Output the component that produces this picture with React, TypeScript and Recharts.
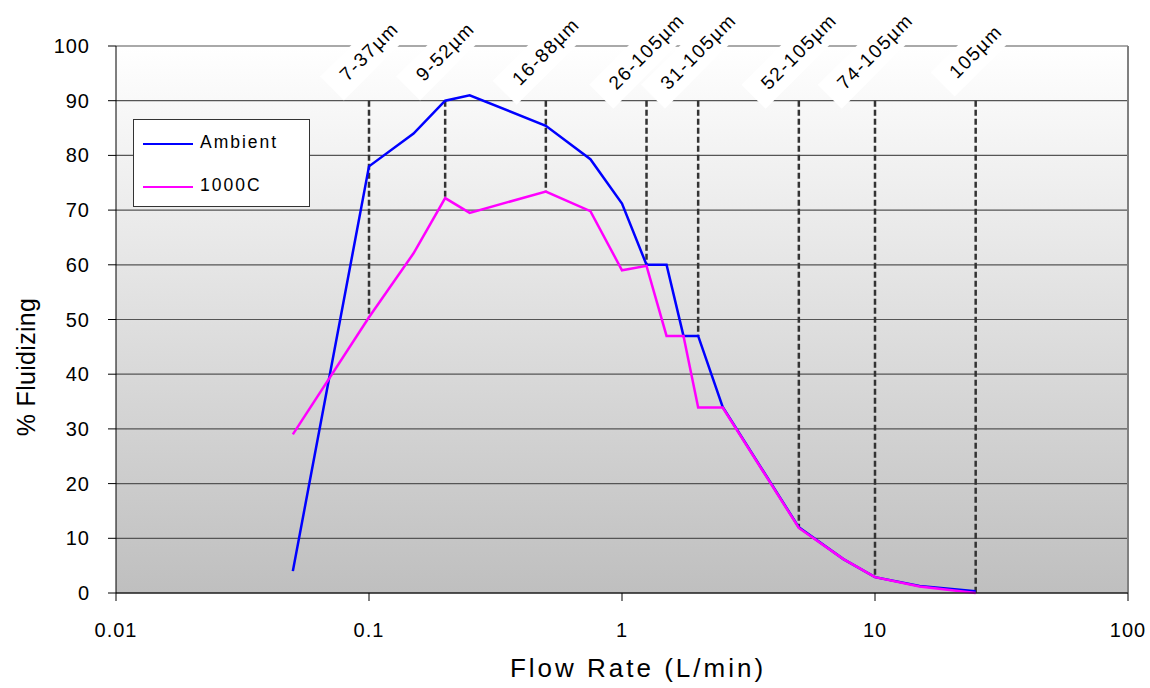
import React from "react";
import {
  CartesianGrid,
  Label,
  Line,
  LineChart,
  ReferenceDot,
  ReferenceLine,
  XAxis,
  YAxis,
} from "recharts";

const flowRate = [0.05, 0.1, 0.15, 0.2, 0.25, 0.5, 0.75, 1, 1.25, 1.5, 1.75, 2, 2.5, 5, 7.5, 10, 15, 25];
const ambient = [4, 78, 84, 90, 91, 85.4, 79.3, 71.2, 60, 60, 47, 47, 34, 12, 6.2, 2.9, 1.3, 0.3];
const hot1000 = [29, 50.4, 62.1, 72.2, 69.5, 73.4, 69.8, 59, 59.8, 47, 47, 33.9, 33.9, 11.9, 6.2, 2.9, 1.2, 0];

const markerFlow = [0.1, 0.2, 0.5, 1.25, 2, 5, 10, 25];
const markerLow = [50.4, 72.2, 73.4, 60, 47, 12, 2.9, 0];
const markerLabels = ["7-37µm", "9-52µm", "16-88µm", "26-105µm", "31-105µm", "52-105µm", "74-105µm", "105µm"];
const markerTop = 90;
const labelLevel = 99;

const xTicks = [0.01, 0.1, 1, 10, 100];
const yTicks = [0, 10, 20, 30, 40, 50, 60, 70, 80, 90, 100];

const FONT = "'Liberation Sans', Arial, sans-serif";

const data = flowRate.map((x, i) => ({ x, ambient: ambient[i], hot: hot1000[i] }));

function MarkerLabel({ cx, cy, text }: { cx?: number; cy?: number; text: string }) {
  if (cx == null || cy == null) return null;
  const w = text.length * 11.5 + 36;
  const h = 34;
  return (
    <g transform={`rotate(-45 ${cx} ${cy})`}>
      <rect x={cx - w / 2} y={cy - h / 2} width={w} height={h} fill="#ffffff" />
      <text
        x={cx}
        y={cy}
        textAnchor="middle"
        dominantBaseline="central"
        fontFamily={FONT}
        fontSize={19}
        letterSpacing={1.5}
        fill="#000"
      >
        {text}
      </text>
    </g>
  );
}

function XTick(props: any) {
  const { x, y, payload } = props;
  return (
    <text x={x} y={y + 27} textAnchor="middle" dominantBaseline="central" fontFamily={FONT} fontSize={20} letterSpacing={1} fill="#000">
      {payload.value}
    </text>
  );
}

function YTick(props: any) {
  const { x, y, payload } = props;
  return (
    <text x={x - 16} y={y} textAnchor="end" dominantBaseline="central" fontFamily={FONT} fontSize={20} letterSpacing={1} fill="#000">
      {payload.value}
    </text>
  );
}

export default function App() {
  return (
    <div style={{ position: "fixed", left: 0, top: 0, width: 1150, height: 688, background: "#fff" }}>
      <LineChart width={1150} height={688} data={data} margin={{ top: 46, right: 22, bottom: 0, left: 0 }}>
        <defs>
          <linearGradient id="plotBg" x1="0" y1="0" x2="0" y2="1">
            <stop offset="0%" stopColor="#ffffff" />
            <stop offset="100%" stopColor="#bfbfbf" />
          </linearGradient>
        </defs>
        <CartesianGrid vertical={false} fill="url(#plotBg)" stroke="#555" strokeWidth={1.2} />
        <XAxis
          type="number"
          dataKey="x"
          scale="log"
          domain={[0.01, 100]}
          ticks={xTicks}
          allowDataOverflow
          height={95}
          tickSize={8}
          tick={<XTick />}
          stroke="#000"
        >
          <Label
            content={() => (
              <text x={638} y={668} textAnchor="middle" dominantBaseline="central" fontFamily={FONT} fontSize={26} letterSpacing={3} fill="#000">
                Flow Rate (L/min)
              </text>
            )}
          />
        </XAxis>
        <YAxis
          type="number"
          domain={[0, 100]}
          ticks={yTicks}
          width={116}
          tickSize={8}
          tick={<YTick />}
          stroke="#000"
          interval={0}
        >
          <Label
            content={() => (
              <text
                x={26}
                y={367}
                transform="rotate(-90 26 367)"
                textAnchor="middle"
                dominantBaseline="central"
                fontFamily={FONT}
                fontSize={25}
                letterSpacing={0.3}
                fill="#000"
              >
                % Fluidizing
              </text>
            )}
          />
        </YAxis>
        <ReferenceLine x={100} stroke="#808080" strokeWidth={2} />
        {markerFlow.map((fx, i) => (
          <ReferenceDot
            key={`lab-${i}`}
            x={fx}
            y={labelLevel}
            r={0}
            shape={(p: any) => <MarkerLabel cx={p.cx} cy={p.cy} text={markerLabels[i]} />}
          />
        ))}
        {markerFlow.map((fx, i) => (
          <ReferenceLine
            key={`seg-${i}`}
            segment={[
              { x: fx, y: markerTop },
              { x: fx, y: markerLow[i] },
            ]}
            stroke="#333"
            strokeWidth={2.5}
            strokeDasharray="6 3"
          />
        ))}
        <Line type="linear" dataKey="ambient" stroke="#0000ff" strokeWidth={2.5} dot={false} isAnimationActive={false} />
        <Line type="linear" dataKey="hot" stroke="#ff00ff" strokeWidth={2.5} dot={false} isAnimationActive={false} />
      </LineChart>
      <div
        style={{
          position: "absolute",
          left: 133,
          top: 119,
          width: 175,
          height: 86,
          background: "#fff",
          border: "1px solid #333",
          fontFamily: FONT,
          fontSize: 17.5,
          letterSpacing: 2,
        }}
      >
        {[
          { name: "Ambient", color: "#0000ff", top: 7 },
          { name: "1000C", color: "#ff00ff", top: 50 },
        ].map((e) => (
          <div key={e.name} style={{ position: "absolute", left: 9, top: e.top, height: 30, display: "flex", alignItems: "center" }}>
            <div style={{ width: 50, height: 2.5, background: e.color, marginRight: 7, marginTop: 4 }} />
            <span>{e.name}</span>
          </div>
        ))}
      </div>
    </div>
  );
}
